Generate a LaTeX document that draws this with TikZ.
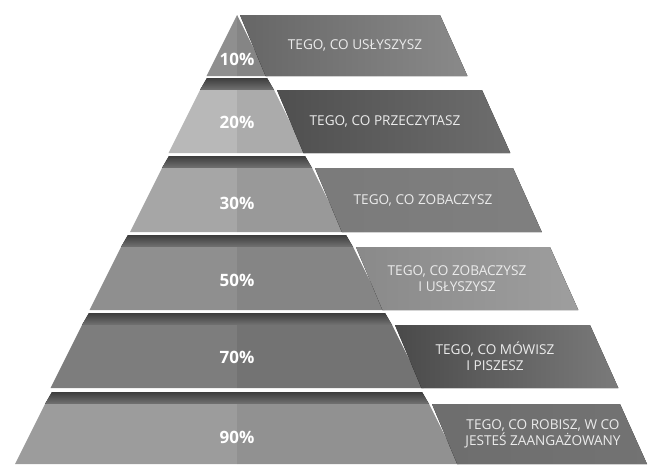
\documentclass[tikz,border=0pt]{standalone}
\usepackage{fontspec}
\setmainfont{Open Sans}
\begin{document}
\begin{tikzpicture}[x=1pt, y=-1pt, line join=round,
  bevel/.style={top color=black!76, bottom color=black!55},
  lbl/.style={font=\fontsize{13.6}{16}\selectfont, text=black!8, align=center},
  pct/.style={font=\fontsize{17}{17}\selectfont\bfseries, text=white}]
\useasboundingbox (0,0) rectangle (652,464);
\def\cx{237}
\foreach \n/\yt/\yb/\xl/\xr/\fa/\fb/\ba/\bb/\py/\tx/\v/\txt in {
  1/15/76/237/440/44/48/60/46/59/355/10/{TEGO, CO USŁYSZYSZ},
  2/90/153/200/482/28/33/69/57/122/385/20/{TEGO, CO PRZECZYTASZ},
  3/168/232/162/513/35/40/52/50/203/423/30/{TEGO, CO ZOBACZYSZ},
  4/247/310/121/550/44/48/46/38/280/457/50/{TEGO, CO ZOBACZYSZ\\I USŁYSZYSZ},
  5/325/388/82/590/51/55/71/52/357/495/70/{TEGO, CO MÓWISZ\\I PISZESZ},
  6/404/464/45/620/39/43/57/55/437/543/90/{TEGO, CO ROBISZ, W CO\\JESTEŚ ZAANGAŻOWANY}}{
  \pgfmathsetmacro\h{\yb-\yt}
  \path (\xl,\yt) coordinate (lt) (\cx,\yt) coordinate (mt) (\cx,\yb) coordinate (mb)
    (\xl-0.5*\h,\yb) coordinate (lb) (2*\cx-\xl,\yt) coordinate (rt) (2*\cx-\xl+0.5*\h,\yb) coordinate (rb)
    (2*\cx-\xl+3,\yt) coordinate (bt) (2*\cx-\xl+3+0.42*\h,\yb) coordinate (bb)
    (\xr,\yt) coordinate (et) (\xr+0.45*\h,\yb) coordinate (eb);
  % top face of the step
  \ifnum\n>1 \fill[bevel] (\xl+7,\yt-12) -- (2*\cx-\xl-7,\yt-12) -- (rt) -- (lt) -- cycle; \fi
  \fill[black!\fa] (lt)--(mt)--(mb)--(lb)--cycle;
  \fill[black!\fb] (mt)--(rt)--(rb)--(mb)--cycle;
  % label band
  \fill[left color=black!\ba, right color=black!\bb] (bt)--(et)--(eb)--(bb)--cycle;
  \node[pct] (p\n) at (\cx,\py) {\v\%};
  \node[lbl] (t\n) at (\tx,\yt/2+\yb/2) {\txt};
}
\end{tikzpicture}
\end{document}
